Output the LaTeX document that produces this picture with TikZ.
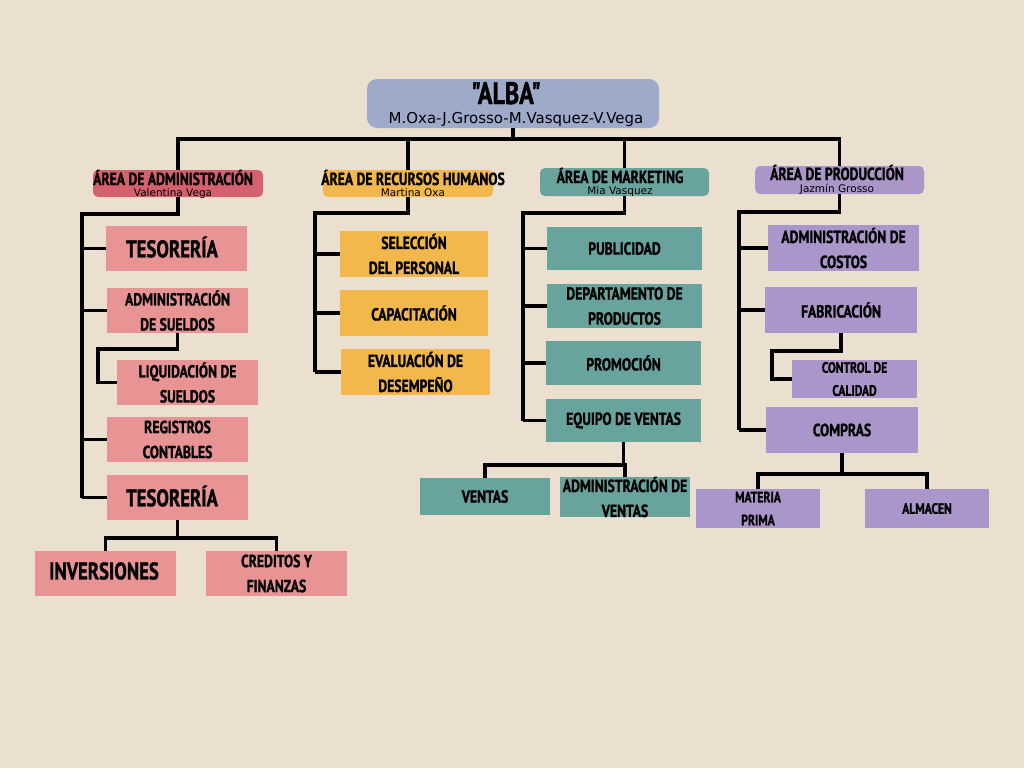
\documentclass[tikz,border=0pt]{standalone}
\usepackage{fontspec}
\newfontfamily\hand{PT Sans}[FakeStretch=0.78,FakeBold=1.2]
\newfontfamily\sub{DejaVu Sans}
\definecolor{bg}{HTML}{EBE0D0}
\definecolor{topc}{HTML}{9DAAC9}
\definecolor{admH}{HTML}{D5606E}
\definecolor{admB}{HTML}{E99494}
\definecolor{rhH}{HTML}{F2B84B}
\definecolor{rhB}{HTML}{F3B84C}
\definecolor{mkH}{HTML}{68A39E}
\definecolor{mkB}{HTML}{69A39E}
\definecolor{prH}{HTML}{AB95C9}
\definecolor{prB}{HTML}{AA96CA}
\tikzset{
  conn/.style={line width=3.2pt, black, line join=miter},
  hdr/.style={rounded corners=5pt, inner sep=0pt, align=center},
  htxt/.style={inner sep=0pt, anchor=base, font=\hand\bfseries\fontsize{17.5}{18}\selectfont},
  hsub/.style={inner sep=0pt, anchor=base, font=\sub\fontsize{10.5}{11}\selectfont},
  boxn/.style={inner sep=0pt, align=center, font=\hand\bfseries\fontsize{17.5}{25}\selectfont},
  bigt/.style={font=\hand\bfseries\fontsize{24}{25}\selectfont},
}
\begin{document}
\begin{tikzpicture}[x=1pt,y=-1pt]
\useasboundingbox (0,0) rectangle (1024,768);
\fill[bg] (0,0) rectangle (1024,768);

% top
\node[fill=topc, rounded corners=10pt, minimum width=292pt, minimum height=49pt, inner sep=0pt] (top) at (513,103.5) {};
\node[font=\hand\bfseries\fontsize{31}{31}\selectfont, inner sep=0pt, anchor=base] (ttl) at (506,104) {"ALBA"};
\node[font=\sub\fontsize{15}{15}\selectfont, inner sep=0pt, anchor=base] (tsub) at (516,123) {M.Oxa-J.Grosso-M.Vasquez-V.Vega};

% headers
\node[hdr, fill=admH, minimum width=170pt, minimum height=27pt] (h1) at (178,183.5) {};
\node[htxt] (h1t) at (173,185) {ÁREA DE ADMINISTRACIÓN};
\node[hsub] (h1s) at (173,196) {Valentina Vega};
\node[hdr, fill=rhH, minimum width=170pt, minimum height=27pt] (h2) at (408,183.5) {};
\node[htxt] (h2t) at (413,185) {ÁREA DE RECURSOS HUMANOS};
\node[hsub] (h2s) at (413,196) {Martina Oxa};
\node[hdr, fill=mkH, minimum width=169pt, minimum height=28pt] (h3) at (624.5,182) {};
\node[htxt] (h3t) at (620,183) {ÁREA DE MARKETING};
\node[hsub] (h3s) at (620,194) {Mia Vasquez};
\node[hdr, fill=prH, minimum width=169pt, minimum height=28pt] (h4) at (839.5,180) {};
\node[htxt] (h4t) at (837,180) {ÁREA DE  PRODUCCIÓN};
\node[hsub] (h4s) at (837,192) {Jazmín Grosso};

% administration boxes
\node[boxn, fill=admB, minimum width=141pt, minimum height=45pt] (a1) at (176.5,248.5) {};
\node[bigt] at (172,247) {TESORERÍA};
\node[boxn, fill=admB, minimum width=141pt, minimum height=45pt] (a2) at (177.5,310.5) {ADMINISTRACIÓN\\DE SUELDOS};
\node[boxn, fill=admB, minimum width=141pt, minimum height=45pt] (a3) at (187.5,382.5) {LIQUIDACIÓN DE\\SUELDOS};
\node[boxn, fill=admB, minimum width=141pt, minimum height=45pt] (a4) at (177.5,439.5) {REGISTROS\\CONTABLES};
\node[boxn, fill=admB, minimum width=141pt, minimum height=45pt] (a5) at (177.5,497.5) {};
\node[bigt] at (172,496) {TESORERÍA};
\node[boxn, fill=admB, minimum width=141pt, minimum height=45pt] (a6) at (105.5,573.5) {};
\node[bigt] at (104,571) {INVERSIONES};
\node[boxn, fill=admB, minimum width=141pt, minimum height=45pt] (a7) at (276.5,573.5) {CREDITOS Y\\FINANZAS};

% HR boxes
\node[boxn, fill=rhB, minimum width=148pt, minimum height=46pt] (r1) at (414,254) {SELECCIÓN\\DEL PERSONAL};
\node[boxn, fill=rhB, minimum width=148pt, minimum height=46pt] (r2) at (414,313) {CAPACITACIÓN};
\node[boxn, fill=rhB, minimum width=149pt, minimum height=46pt] (r3) at (415.5,372) {EVALUACIÓN DE\\DESEMPEÑO};

% marketing boxes
\node[boxn, fill=mkB, minimum width=155pt, minimum height=43pt] (m1) at (624.5,248.5) {PUBLICIDAD};
\node[boxn, fill=mkB, minimum width=155pt, minimum height=44pt] (m2) at (624.5,306) {DEPARTAMENTO DE\\PRODUCTOS};
\node[boxn, fill=mkB, minimum width=155pt, minimum height=44pt] (m3) at (623.5,363) {PROMOCIÓN};
\node[boxn, fill=mkB, minimum width=155pt, minimum height=43pt] (m4) at (623.5,420.5) {EQUIPO DE VENTAS};
\node[boxn, fill=mkB, minimum width=130pt, minimum height=37pt] (m5) at (485,496.5) {VENTAS};
\node[boxn, fill=mkB, minimum width=130pt, minimum height=38pt] (m6) at (625,497) {ADMINISTRACIÓN DE\\VENTAS};

% production boxes
\node[boxn, fill=prB, minimum width=151pt, minimum height=46pt] (p1) at (843.5,248) {ADMINISTRACIÓN DE\\COSTOS};
\node[boxn, fill=prB, minimum width=152pt, minimum height=46pt] (p2) at (841,310) {FABRICACIÓN};
\node[boxn, fill=prB, minimum width=125pt, minimum height=38pt, font=\hand\bfseries\fontsize{15}{23}\selectfont] (p3) at (854.5,379) {CONTROL DE\\CALIDAD};
\node[boxn, fill=prB, minimum width=152pt, minimum height=46pt] (p4) at (842,430) {COMPRAS};
\node[boxn, fill=prB, minimum width=124pt, minimum height=39pt, font=\hand\bfseries\fontsize{15}{23}\selectfont] (p5) at (758,508.5) {MATERIA\\PRIMA};
\node[boxn, fill=prB, minimum width=124pt, minimum height=39pt, font=\hand\bfseries\fontsize{15}{23}\selectfont] (p6) at (927,508.5) {ALMACEN};

% connectors: top bus
\coordinate (bus) at (0,139);
\draw[conn] (top.south) -- (top.south |- bus);
\draw[conn] (h1.north) -- (h1.north |- bus) -- (h4.north |- bus) -- (h4.north);
\draw[conn] (h2.north |- bus) -- (h2.north);
\draw[conn] (h3.north |- bus) -- (h3.north);

% administration
\coordinate (sa) at (82,214);
\draw[conn] (h1.south) -- (h1.south |- sa) -- (sa) -- (sa |- a5.west);
\foreach \n in {a1,a2,a4,a5} \draw[conn] (sa |- \n.west) -- (\n.west);
\coordinate (la) at (98,349);
\draw[conn] (a2.south) -- (a2.south |- la) -- (la) -- (la |- a3.west) -- (a3.west);
\coordinate (ba) at (0,538);
\draw[conn] (a5.south) -- (a5.south |- ba);
\draw[conn] (a6.north) -- (a6.north |- ba) -- (a7.north |- ba) -- (a7.north);

% HR
\coordinate (sr) at (315,213);
\draw[conn] (h2.south) -- (h2.south |- sr) -- (sr) -- (sr |- r3.west);
\foreach \n in {r1,r2,r3} \draw[conn] (sr |- \n.west) -- (\n.west);

% marketing
\coordinate (sm) at (523,213);
\draw[conn] (h3.south) -- (h3.south |- sm) -- (sm) -- (sm |- m4.west);
\foreach \n in {m1,m2,m3,m4} \draw[conn] (sm |- \n.west) -- (\n.west);
\coordinate (bm) at (0,465);
\draw[conn] (m4.south) -- (m4.south |- bm);
\draw[conn] (m5.north) -- (m5.north |- bm) -- (m6.north |- bm) -- (m6.north);

% production
\coordinate (sp) at (739,212);
\draw[conn] (h4.south) -- (h4.south |- sp) -- (sp) -- (sp |- p4.west);
\foreach \n in {p1,p2,p4} \draw[conn] (sp |- \n.west) -- (\n.west);
\coordinate (lp) at (772,351);
\draw[conn] (p2.south) -- (p2.south |- lp) -- (lp) -- (lp |- p3.west) -- (p3.west);
\coordinate (bp) at (0,474);
\draw[conn] (p4.south) -- (p4.south |- bp);
\draw[conn] (p5.north) -- (p5.north |- bp) -- (p6.north |- bp) -- (p6.north);
\end{tikzpicture}
\end{document}
